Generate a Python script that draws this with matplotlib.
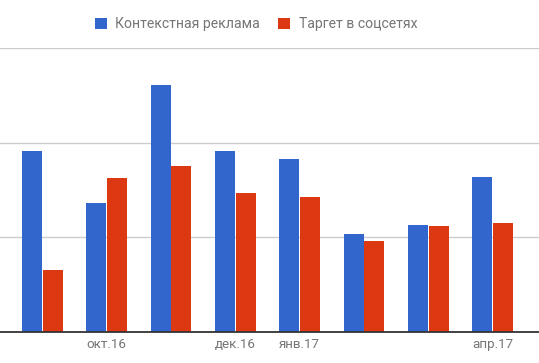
import matplotlib.pyplot as plt
import numpy as np

plt.rcParams['font.family'] = ['Roboto', 'DejaVu Sans']

# data (units, gridline step = 1)
months = ['сен.16', 'окт.16', 'ноя.16', 'дек.16', 'янв.17', 'фев.17', 'мар.17', 'апр.17']
shown_labels = ['', 'окт.16', '', 'дек.16', 'янв.17', '', '', 'апр.17']
context_ads = [1.91, 1.36, 2.61, 1.91, 1.83, 1.03, 1.13, 1.64]
social_target = [0.65, 1.63, 1.75, 1.47, 1.43, 0.96, 1.12, 1.15]
series_names = ['Контекстная реклама', 'Таргет в соцсетях']

blue = '#3366cc'
red = '#dc3912'

fig = plt.figure(figsize=(5.39, 3.63), dpi=100)
ax = fig.add_axes([0, 0.0854, 1, 0.7824])

x = np.arange(len(months))
w = 0.311
b1 = ax.bar(x - 0.161, context_ads, w, color=blue, label=series_names[0], zorder=3)
b2 = ax.bar(x + 0.161, social_target, w, color=red, label=series_names[1], zorder=3)

ax.set_xlim(-0.661, 7.723)
ax.set_ylim(0, 3)
ax.set_yticks([1, 2, 3])
ax.yaxis.grid(True, color='#cccccc', linewidth=1, zorder=0)
ax.tick_params(axis='y', length=0, labelleft=False)
ax.set_xticks(x)
ax.set_xticklabels(shown_labels, fontsize=9.6, color='#757575')
ax.tick_params(axis='x', length=0, pad=4.5)
for s in ['top', 'right', 'left']:
    ax.spines[s].set_visible(False)
ax.spines['bottom'].set_color('#333333')
ax.spines['bottom'].set_linewidth(1.3)
ax.spines['bottom'].set_zorder(4)

leg = fig.legend(handles=[b1, b2], loc='center', bbox_to_anchor=(0.475, 0.934),
                 ncol=2, frameon=False, fontsize=10.1, handlelength=0.85,
                 handleheight=0.85, handletextpad=0.6, columnspacing=1.3,
                 labelcolor='#757575')

fig.savefig('out.png', dpi=100)
